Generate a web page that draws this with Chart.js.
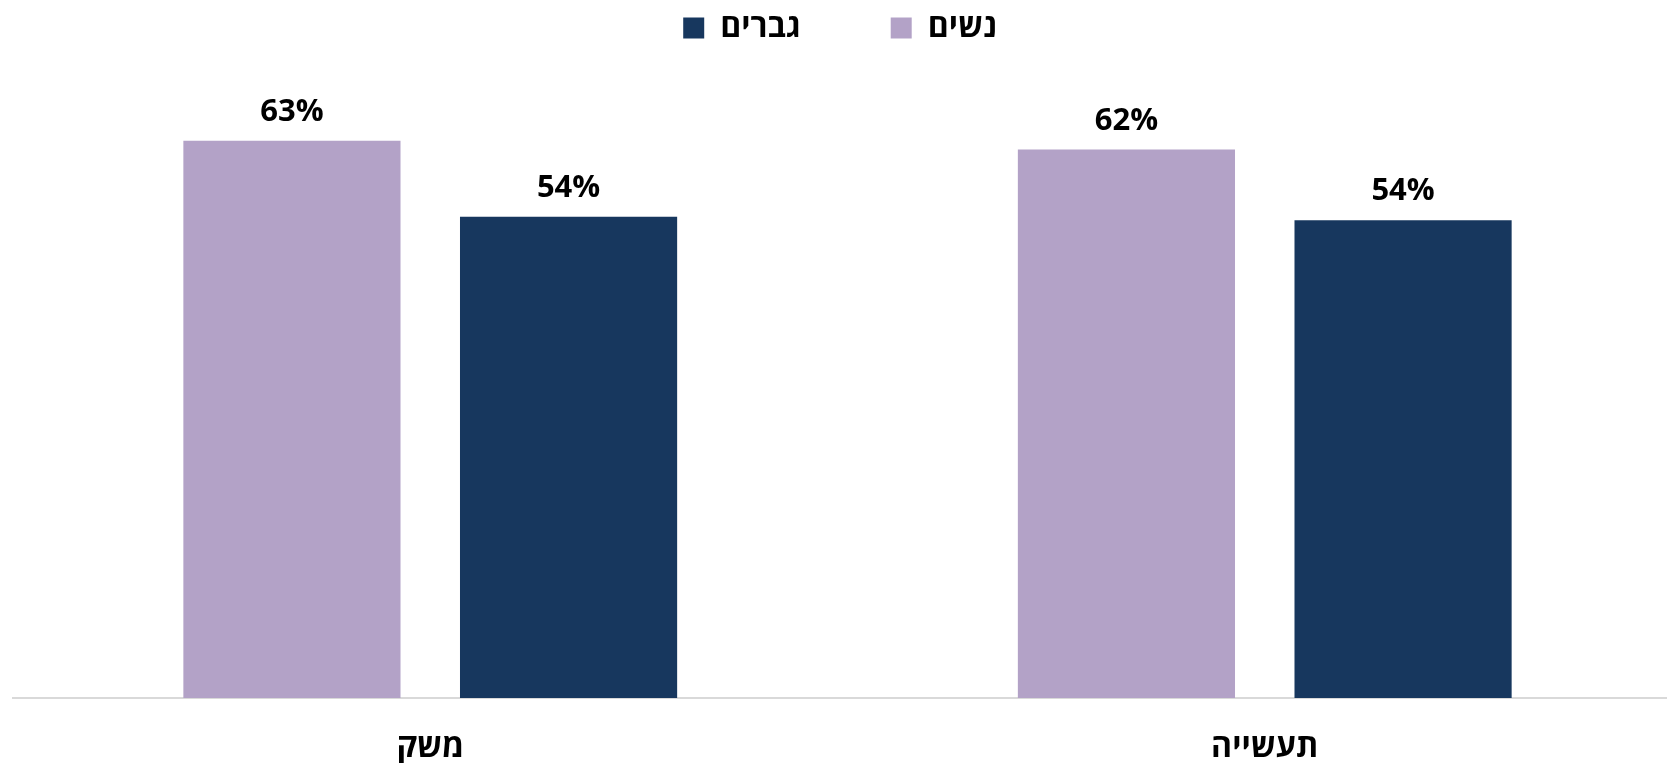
<!DOCTYPE html>
<html lang="he">
<head>
<meta charset="utf-8">
<title>chart</title>
<script src="https://cdn.jsdelivr.net/npm/chart.js@4.4.0/dist/chart.umd.min.js"></script>
<style>
  html, body { margin: 0; padding: 0; background: #ffffff; }
  #wrap { width: 1667px; height: 763px; }
</style>
</head>
<body>
<div id="wrap"><canvas id="myChart"></canvas></div>
<script>
// Data
const categories = ['משק', 'תעשייה'];
const seriesNames = ['נשים', 'גברים'];
const women = [63, 62];
const men = [54.4, 54];

const fontFamily = '"Open Sans", "Liberation Sans", "DejaVu Sans", sans-serif';

// value labels above the bars
const valueLabels = {
  id: 'valueLabels',
  afterLayout(chart) {
    // the plot runs a little past the right edge in the original
    var x = chart.scales.x;
    x.right = 1682;
    x.width = x.right - x.left;
    x.configure();
  },
  afterDatasetsDraw(chart) {
    const ctx = chart.ctx;
    ctx.save();
    ctx.font = 'bold 31px ' + fontFamily;
    ctx.fillStyle = '#000000';
    ctx.textAlign = 'center';
    ctx.textBaseline = 'alphabetic';
    chart.data.datasets.forEach(function(ds, i) {
      var meta = chart.getDatasetMeta(i);
      meta.data.forEach(function(bar, j) {
        ctx.fillText(Math.round(ds.data[j]) + '%', bar.x, bar.y - 20);
      });
    });
    ctx.restore();
  }
};

var ctx = document.getElementById('myChart').getContext('2d');
var myChart = new Chart(ctx, {
  type: 'bar',
  data: {
    labels: categories,
    datasets: [{
      label: seriesNames[0],
      data: women,
      backgroundColor: '#B3A2C7'
    }, {
      label: seriesNames[1],
      data: men,
      backgroundColor: '#17375E'
    }]
  },
  options: {
    responsive: true,
    maintainAspectRatio: false,
    animation: false,
    categoryPercentage: 0.663,
    barPercentage: 0.785,
    layout: { padding: { top: 2, left: 13, right: 0, bottom: 0 } },
    plugins: {
      tooltip: { enabled: false },
      legend: {
        position: 'top',
        reverse: true,
        labels: {
          boxWidth: 21,
          boxHeight: 21,
          padding: 10,
          color: '#000000',
          font: { family: fontFamily, size: 32, weight: 'bold' },
          generateLabels: function(chart) {
            var items = Chart.defaults.plugins.legend.labels.generateLabels(chart);
            // extra room after the left item
            items.forEach(function(it) {
              if (it.datasetIndex === 1) it.text = it.text + '\u2003\u2003\u2002';
            });
            return items;
          }
        }
      }
    },
    scales: {
      x: {
        grid: { display: false, drawTicks: false },
        border: { display: true, color: '#D9D9D9', width: 2 },
        ticks: {
          padding: 31,
          color: '#000000',
          font: { family: fontFamily, size: 32, weight: 'bold' }
        },
        afterFit: function(scale) {
          scale.height = 65;
        }
      },
      y: {
        display: false,
        min: 0,
        max: 72.8
      }
    }
  },
  plugins: [valueLabels]
});
</script>
</body>
</html>
